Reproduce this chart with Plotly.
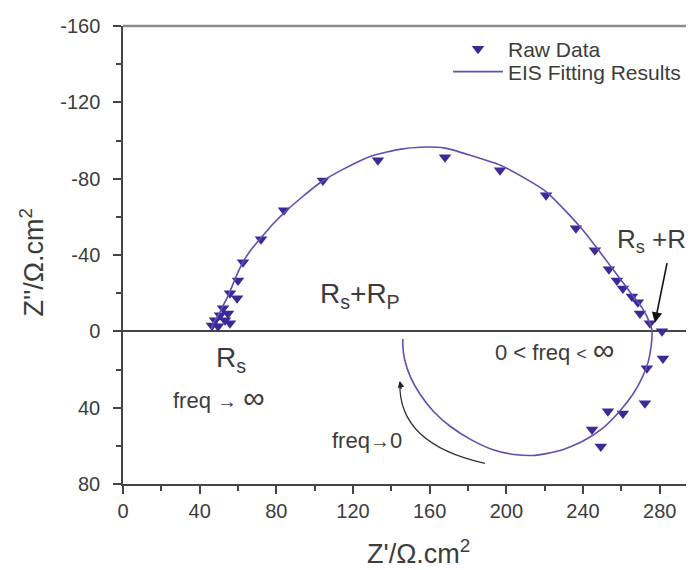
import plotly.graph_objects as go

# Raw data (Z', Z'')
raw_zr = [46.4, 48.0, 49.6, 50.6, 52.2, 53.2, 54.8, 55.8, 55.8, 59.5, 60.0, 62.6, 72.0, 84.0,
          104.3, 133.0, 168.0, 196.7, 220.7, 236.3, 246.2, 253.5, 257.7, 260.8, 265.5, 268.6,
          269.7, 274.9, 281.2, 281.7, 273.3, 272.3, 260.8, 253.0, 244.7, 249.3]
raw_zi = [-3.1, -5.8, -2.6, -8.4, -12.1, -5.8, -9.4, -4.2, -19.9, -17.3, -26.7, -36.2, -48.2, -63.4,
          -79.1, -89.6, -91.2, -84.4, -71.3, -54.0, -42.5, -32.5, -26.7, -22.5, -18.3, -15.2,
          -9.4, -4.2, 0.0, 14.2, 19.4, 37.7, 43.0, 41.9, 51.4, 60.3]

# Fitted curve
fit_zr = [46, 47, 50, 52, 55, 57.5, 60, 63, 67, 72, 78, 85, 93, 103, 115, 130, 145, 155, 168, 182,
          197, 210, 221, 231, 240, 247, 253, 259, 265, 271, 275, 276,
          275.5, 274, 271, 266, 259, 250, 240, 228, 215, 204, 193, 182, 171, 162, 155, 150, 147, 146, 146]
fit_zi = [-1, -4, -9, -13, -19, -25, -31, -37, -43, -49, -56, -63, -70, -78, -85, -92, -95.5, -96.5, -96, -92,
          -87, -80, -73, -63, -53, -44, -36, -28, -20, -12, -4, 0,
          8, 16, 24, 33, 42, 51, 57.5, 62.5, 65, 64.5, 62, 57, 50, 42, 33, 24, 15, 8, 4]

x_ticks = [0, 40, 80, 120, 160, 200, 240, 280]
y_ticks = [-160, -120, -80, -40, 0, 40, 80]

LINE_C = "#5a52b0"
MARK_C = "#3a2a98"
TXT_C = "#3c3c3c"
FONT = "Liberation Sans, Arial, sans-serif"

fig = go.Figure()
fig.add_trace(go.Scatter(x=raw_zr, y=raw_zi, mode="markers", name="Raw Data", legend="legend",
                         marker=dict(symbol="triangle-down", size=11, color=MARK_C,
                                     line=dict(width=0))))
fig.add_trace(go.Scatter(x=fit_zr, y=fit_zi, mode="lines", name="EIS Fitting Results", legend="legend2",
                         line=dict(color=LINE_C, width=1.6, shape="spline", smoothing=0.6)))

axis_common = dict(showgrid=False, ticks="outside", ticklen=8, tickwidth=1.5,
                   tickcolor="#444", linecolor="#444", linewidth=1.5, showline=True,
                   tickfont=dict(family=FONT, size=20, color=TXT_C), automargin=False,
                   minor=dict(ticks="outside", ticklen=5, tickwidth=1.5, tickcolor="#444", dtick=20))

fig.update_xaxes(range=[0, 297.9], tickvals=x_ticks, ticktext=[str(v) for v in x_ticks],
                 zeroline=False, mirror=False, **axis_common)
fig.update_yaxes(range=[80, -160], tickvals=y_ticks, ticktext=[str(v) for v in y_ticks],
                 zeroline=True, zerolinecolor="#444", zerolinewidth=1.5, mirror=False,
                 ticklabelstandoff=9, **axis_common)

# top frame line
fig.add_shape(type="line", xref="paper", yref="paper", x0=0, x1=1.02, y0=1, y1=1,
              line=dict(color="#8c8c8c", width=2.5))

# curved arrow "freq -> 0"
fig.add_shape(type="path", xref="x", yref="y",
              path="M 188.8,69.2 Q 143.2,59 144.5,26.7",
              line=dict(color="#333", width=1.3))

title_font = dict(family=FONT, size=27, color=TXT_C)
fig.add_annotation(xref="paper", yref="paper", x=0.517, y=-0.148, text="Z'/Ω.cm<sup>2</sup>",
                   showarrow=False, xanchor="center", yanchor="middle", font=title_font)
fig.add_annotation(xref="paper", yref="paper", x=-0.16, y=0.485, text="Z''/Ω.cm<sup>2</sup>",
                   showarrow=False, xanchor="center", yanchor="middle", textangle=-90, font=title_font)

ann_font = dict(family=FONT, size=22, color=TXT_C)
big_font = dict(family=FONT, size=28, color=TXT_C)
rt_font = dict(family=FONT, size=26, color=TXT_C)
annotations = [
    dict(x=47.5, y=14.5, text="R<sub>s</sub>", font=big_font),
    dict(x=25.0, y=34.8, text="freq <span style='font-size:20px'>→</span> <span style='font-size:30px'>∞</span>", font=ann_font),
    dict(x=101.7, y=-19.0, text="R<sub>s</sub>+R<sub>P</sub>", font=big_font),
    dict(x=193.0, y=9.5, text="0 < freq <span style='font-size:18px'><</span> <span style='font-size:30px'>∞</span>", font=ann_font),
    dict(x=256.7, y=-47.7, text="R<sub>s</sub> +R<sub>t</sub>", font=rt_font),
    dict(x=108.0, y=57.1, text="freq<span style='font-size:20px'>→</span>0", font=ann_font),
]
for a in annotations:
    fig.add_annotation(xref="x", yref="y", showarrow=False, xanchor="left", yanchor="middle", **a)

# straight arrow to Rs+Rt
fig.add_annotation(x=277.5, y=-4.5, ax=284.0, ay=-36.5, xref="x", yref="y", axref="x", ayref="y",
                   text="", showarrow=True, arrowhead=2, arrowsize=1.3, arrowwidth=1.6,
                   arrowcolor="#111")
# arrowhead on curved arrow
fig.add_annotation(x=144.4, y=26.0, ax=145.3, ay=31.0, xref="x", yref="y", axref="x", ayref="y",
                   text="", showarrow=True, arrowhead=2, arrowsize=1.0, arrowwidth=1.3,
                   arrowcolor="#222")

leg_common = dict(xanchor="left", yanchor="middle", bgcolor="rgba(0,0,0,0)",
                  font=dict(family=FONT, size=21, color=TXT_C), itemwidth=50)
fig.update_layout(
    width=686, height=562,
    margin=dict(l=115, r=0, t=18, b=86, autoexpand=False),
    paper_bgcolor="white", plot_bgcolor="white",
    showlegend=True,
    legend=dict(x=(448 - 123) / 571, y=(484 - 49) / 458, **leg_common),
    legend2=dict(x=(448 - 123) / 571, y=(484 - 72) / 458, **leg_common),
)

fig.write_html("out.html")
